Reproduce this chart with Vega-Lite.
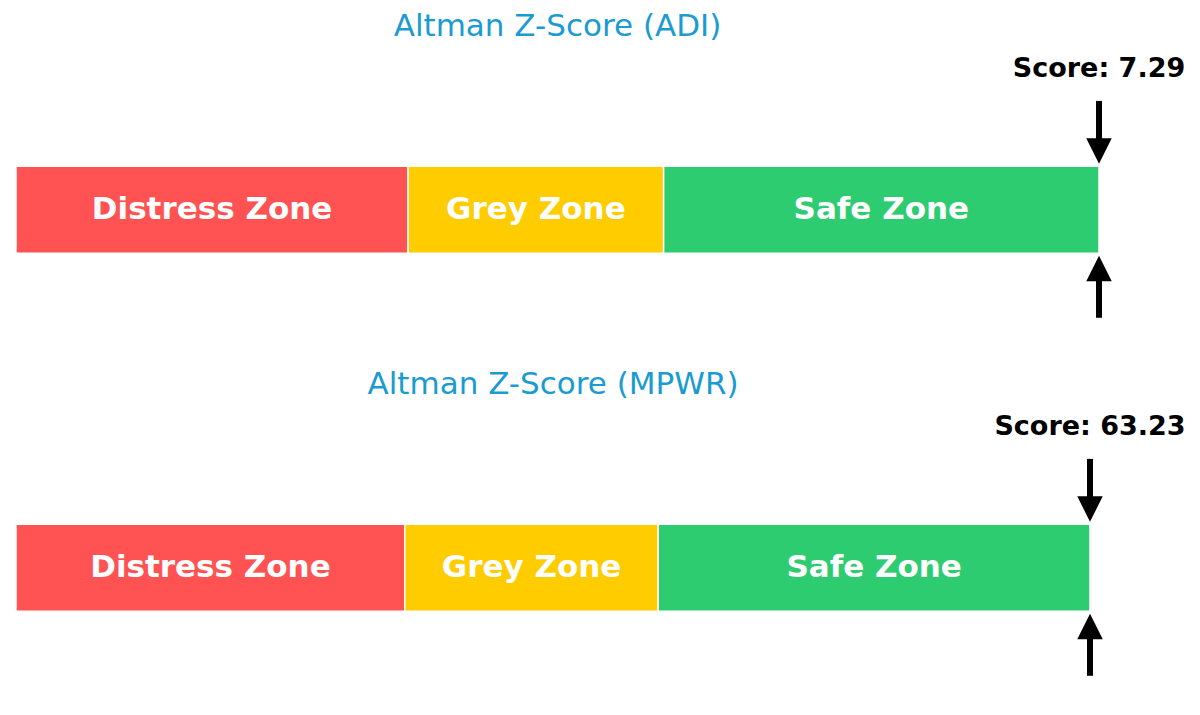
{
  "$schema": "https://vega.github.io/schema/vega-lite/v6.json",
  "background": "white",
  "padding": {"left": 15, "top": 11, "right": 0, "bottom": 0},
  "spacing": 46,
  "config": {
    "view": {"stroke": null},
    "font": "DejaVu Sans",
    "title": {"fontSize": 31, "fontWeight": "normal", "color": "#1a9bd1", "anchor": "middle", "frame": "group", "offset": 10}
  },
  "datasets": {
    "zones": [
      {"company": "ADI", "zone": "Distress Zone", "start": 0, "end": 1.81},
      {"company": "ADI", "zone": "Grey Zone", "start": 1.81, "end": 2.99},
      {"company": "ADI", "zone": "Safe Zone", "start": 2.99, "end": 5},
      {"company": "MPWR", "zone": "Distress Zone", "start": 0, "end": 1.81},
      {"company": "MPWR", "zone": "Grey Zone", "start": 1.81, "end": 2.99},
      {"company": "MPWR", "zone": "Safe Zone", "start": 2.99, "end": 5}
    ],
    "scores": [
      {"company": "ADI", "score": 7.29, "marker": 5},
      {"company": "MPWR", "score": 63.23, "marker": 5}
    ]
  },
  "vconcat": [
    {
      "title": "Altman Z-Score (ADI)",
      "width": 1083,
      "height": 270,
      "layer": [
        {
          "data": {"name": "zones"},
          "transform": [{"filter": "datum.company == 'ADI'"}],
          "mark": {"type": "rect", "stroke": "white", "strokeWidth": 1.5},
          "encoding": {
            "x": {"field": "start", "type": "quantitative", "scale": {"domain": [0, 5], "nice": false}, "axis": null},
            "x2": {"field": "end"},
            "y": {"datum": -0.5, "type": "quantitative", "scale": {"domain": [-1.3, 1.8], "nice": false, "zero": false}, "axis": null},
            "y2": {"datum": 0.5},
            "color": {
              "field": "zone", "type": "nominal", "legend": null,
              "scale": {"domain": ["Distress Zone", "Grey Zone", "Safe Zone"], "range": ["#ff5252", "#ffcc00", "#2ecc71"]}
            }
          }
        },
        {
          "data": {"name": "zones"},
          "transform": [
            {"filter": "datum.company == 'ADI'"},
            {"calculate": "(datum.start + datum.end) / 2", "as": "mid"}
          ],
          "mark": {"type": "text", "fontSize": 31, "fontWeight": "bold", "color": "white", "align": "center", "baseline": "middle"},
          "encoding": {
            "x": {"field": "mid", "type": "quantitative"},
            "y": {"datum": 0, "type": "quantitative"},
            "text": {"field": "zone"}
          }
        },
        {
          "data": {"name": "scores"},
          "transform": [
            {"filter": "datum.company == 'ADI'"},
            {"calculate": "'Score: ' + format(datum.score, '.2f')", "as": "label"}
          ],
          "layer": [
            {
              "mark": {"type": "rule", "strokeWidth": 6, "color": "black", "strokeCap": "butt"},
              "encoding": {"x": {"field": "marker", "type": "quantitative"}, "y": {"datum": 1.25, "type": "quantitative"}, "y2": {"datum": 0.78}}
            },
            {
              "mark": {"type": "point", "shape": "M-1,-1L1,-1L0,1Z", "size": 650, "filled": true, "opacity": 1, "color": "black"},
              "encoding": {"x": {"field": "marker", "type": "quantitative"}, "y": {"datum": 0.675, "type": "quantitative"}}
            },
            {
              "mark": {"type": "rule", "strokeWidth": 6, "color": "black", "strokeCap": "butt"},
              "encoding": {"x": {"field": "marker", "type": "quantitative"}, "y": {"datum": -1.24, "type": "quantitative"}, "y2": {"datum": -0.78}}
            },
            {
              "mark": {"type": "point", "shape": "M-1,1L1,1L0,-1Z", "size": 650, "filled": true, "opacity": 1, "color": "black"},
              "encoding": {"x": {"field": "marker", "type": "quantitative"}, "y": {"datum": -0.675, "type": "quantitative"}}
            },
            {
              "mark": {"type": "text", "fontSize": 27, "fontWeight": "bold", "color": "black", "align": "center", "baseline": "alphabetic"},
              "encoding": {"x": {"field": "marker", "type": "quantitative"}, "y": {"datum": 1.52, "type": "quantitative"}, "text": {"field": "label"}}
            }
          ]
        }
      ]
    },
    {
      "title": "Altman Z-Score (MPWR)",
      "width": 1074,
      "height": 270,
      "layer": [
        {
          "data": {"name": "zones"},
          "transform": [{"filter": "datum.company == 'MPWR'"}],
          "mark": {"type": "rect", "stroke": "white", "strokeWidth": 1.5},
          "encoding": {
            "x": {"field": "start", "type": "quantitative", "scale": {"domain": [0, 5], "nice": false}, "axis": null},
            "x2": {"field": "end"},
            "y": {"datum": -0.5, "type": "quantitative", "scale": {"domain": [-1.3, 1.8], "nice": false, "zero": false}, "axis": null},
            "y2": {"datum": 0.5},
            "color": {
              "field": "zone", "type": "nominal", "legend": null,
              "scale": {"domain": ["Distress Zone", "Grey Zone", "Safe Zone"], "range": ["#ff5252", "#ffcc00", "#2ecc71"]}
            }
          }
        },
        {
          "data": {"name": "zones"},
          "transform": [
            {"filter": "datum.company == 'MPWR'"},
            {"calculate": "(datum.start + datum.end) / 2", "as": "mid"}
          ],
          "mark": {"type": "text", "fontSize": 31, "fontWeight": "bold", "color": "white", "align": "center", "baseline": "middle"},
          "encoding": {
            "x": {"field": "mid", "type": "quantitative"},
            "y": {"datum": 0, "type": "quantitative"},
            "text": {"field": "zone"}
          }
        },
        {
          "data": {"name": "scores"},
          "transform": [
            {"filter": "datum.company == 'MPWR'"},
            {"calculate": "'Score: ' + format(datum.score, '.2f')", "as": "label"}
          ],
          "layer": [
            {
              "mark": {"type": "rule", "strokeWidth": 6, "color": "black", "strokeCap": "butt"},
              "encoding": {"x": {"field": "marker", "type": "quantitative"}, "y": {"datum": 1.25, "type": "quantitative"}, "y2": {"datum": 0.78}}
            },
            {
              "mark": {"type": "point", "shape": "M-1,-1L1,-1L0,1Z", "size": 650, "filled": true, "opacity": 1, "color": "black"},
              "encoding": {"x": {"field": "marker", "type": "quantitative"}, "y": {"datum": 0.675, "type": "quantitative"}}
            },
            {
              "mark": {"type": "rule", "strokeWidth": 6, "color": "black", "strokeCap": "butt"},
              "encoding": {"x": {"field": "marker", "type": "quantitative"}, "y": {"datum": -1.24, "type": "quantitative"}, "y2": {"datum": -0.78}}
            },
            {
              "mark": {"type": "point", "shape": "M-1,1L1,1L0,-1Z", "size": 650, "filled": true, "opacity": 1, "color": "black"},
              "encoding": {"x": {"field": "marker", "type": "quantitative"}, "y": {"datum": -0.675, "type": "quantitative"}}
            },
            {
              "mark": {"type": "text", "fontSize": 27, "fontWeight": "bold", "color": "black", "align": "center", "baseline": "alphabetic"},
              "encoding": {"x": {"field": "marker", "type": "quantitative"}, "y": {"datum": 1.52, "type": "quantitative"}, "text": {"field": "label"}}
            }
          ]
        }
      ]
    }
  ]
}
